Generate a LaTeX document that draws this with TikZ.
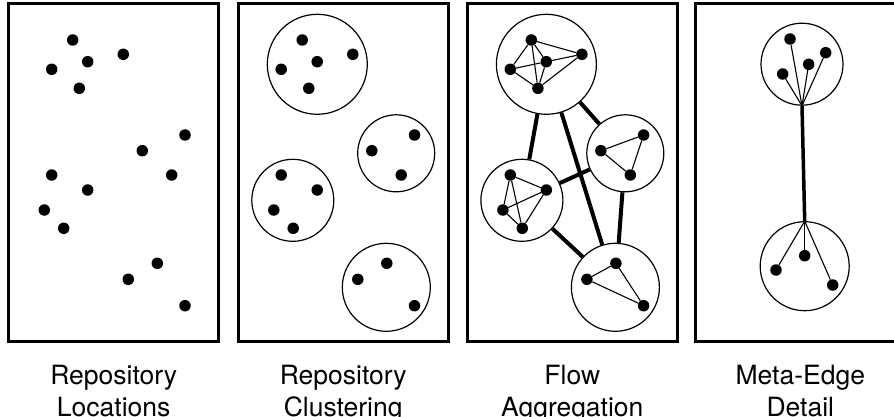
\documentclass[tikz,border=0pt]{standalone}
\usepackage{fontspec}
\setmainfont{TeX Gyre Heros}

\tikzset{
  dot/.style={circle,fill=black,inner sep=0pt,minimum size=11.5pt},
  group/.style={circle,draw,line width=1.2pt,inner sep=0pt},
  panel/.style={draw,line width=2.6pt},
  link/.style={line width=1.1pt},
  flow/.style={line width=4pt},
  caption/.style={align=center,inner sep=0pt,anchor=north,font=\fontsize{26.5}{32}\selectfont}
}

\begin{document}
\begin{tikzpicture}[x=1pt,y=-1pt]
\useasboundingbox (0,0) rectangle (894,417);
\clip (0,0) rectangle (894,417);

% repository locations
\begin{scope}[shift={(8.7,0)}]
\draw[panel] (0,3.7) rectangle (210,341.3);
\node[dot] (l1) at (64,40) {};
\node[dot] (l2) at (114.6,54.3) {};
\node[dot] (l3) at (79,61.7) {};
\node[dot] (l4) at (43,69.3) {};
\node[dot] (l5) at (70.6,88.3) {};
\node[dot] (l6) at (176.3,135) {};
\node[dot] (l7) at (133.6,150.7) {};
\node[dot] (l8) at (163,175) {};
\node[dot] (l9) at (43,175) {};
\node[dot] (l10) at (79,190) {};
\node[dot] (l11) at (35.6,210) {};
\node[dot] (l12) at (55,228.3) {};
\node[dot] (l13) at (148.6,263.3) {};
\node[dot] (l14) at (119.6,279.3) {};
\node[dot] (l15) at (176.3,305.7) {};
\node[caption] (locations) at (105,364.5) {Repository\\Locations};
\end{scope}

% repository clustering
\begin{scope}[shift={(238.2,0)}]
\draw[panel] (0,3.7) rectangle (210.5,341.3);
\node[group,minimum size=100pt] (cA) at (79.1,64.3) {};
\node[group,minimum size=77pt] (cB) at (158,153.3) {};
\node[group,minimum size=82pt] (cC) at (54.6,200.3) {};
\node[group,minimum size=88pt] (cD) at (148.1,287.3) {};
\node[dot] (c1) at (64,40) {};
\node[dot] (c2) at (114.6,54.3) {};
\node[dot] (c3) at (79,61.7) {};
\node[dot] (c4) at (43,69.3) {};
\node[dot] (c5) at (70.6,88.3) {};
\node[dot] (c6) at (176.3,135) {};
\node[dot] (c7) at (133.6,150.7) {};
\node[dot] (c8) at (163,175) {};
\node[dot] (c9) at (43,175) {};
\node[dot] (c10) at (79,190) {};
\node[dot] (c11) at (35.6,210) {};
\node[dot] (c12) at (55,228.3) {};
\node[dot] (c13) at (148.6,263.3) {};
\node[dot] (c14) at (119.6,279.3) {};
\node[dot] (c15) at (176.3,305.7) {};
\node[caption] (clustering) at (105,364.5) {Repository\\Clustering};
\end{scope}

% flow aggregation
\begin{scope}[shift={(467.3,0)}]
\draw[panel] (0,3.7) rectangle (210,341.3);
\node[group,minimum size=100pt] (fA) at (79.1,64.3) {};
\node[group,minimum size=77pt] (fB) at (158,153.3) {};
\node[group,minimum size=82pt] (fC) at (54.6,200.3) {};
\node[group,minimum size=88pt] (fD) at (148.1,287.3) {};
\node[dot] (f1) at (64,40) {};
\node[dot] (f2) at (114.6,54.3) {};
\node[dot] (f3) at (79,61.7) {};
\node[dot] (f4) at (43,69.3) {};
\node[dot] (f5) at (70.6,88.3) {};
\node[dot] (f6) at (176.3,135) {};
\node[dot] (f7) at (133.6,150.7) {};
\node[dot] (f8) at (163,175) {};
\node[dot] (f9) at (43,175) {};
\node[dot] (f10) at (79,190) {};
\node[dot] (f11) at (35.6,210) {};
\node[dot] (f12) at (55,228.3) {};
\node[dot] (f13) at (148.6,263.3) {};
\node[dot] (f14) at (119.6,279.3) {};
\node[dot] (f15) at (176.3,305.7) {};
\draw[flow] (fA) -- (fB);
\draw[flow] (fA) -- (fC);
\draw[flow] (fA) -- (fD);
\draw[flow] (fC) -- (fB);
\draw[flow] (fC) -- (fD);
\draw[flow] (fB) -- (fD);
\draw[link] (f1) -- (f2);
\draw[link] (f1) -- (f3);
\draw[link] (f1) -- (f4);
\draw[link] (f1) -- (f5);
\draw[link] (f4) -- (f3);
\draw[link] (f3) -- (f2);
\draw[link] (f4) -- (f5);
\draw[link] (f3) -- (f5);
\draw[link] (f5) -- (f2);
\draw[link] (f6) -- (f7);
\draw[link] (f7) -- (f8);
\draw[link] (f8) -- (f6);
\draw[link] (f9) -- (f10);
\draw[link] (f9) -- (f11);
\draw[link] (f9) -- (f12);
\draw[link] (f10) -- (f11);
\draw[link] (f10) -- (f12);
\draw[link] (f11) -- (f12);
\draw[link] (f13) -- (f14);
\draw[link] (f14) -- (f15);
\draw[link] (f15) -- (f13);
\node[caption] (aggregation) at (105,364.5) {Flow\\Aggregation};
\end{scope}

% meta-edge detail
\begin{scope}[shift={(695.3,0)}]
\draw[panel] (0,3.7) rectangle (210,341.3);
\node[group,minimum size=82pt] (mA) at (106.7,64.2) {};
\node[group,minimum size=89pt] (mB) at (109.4,266.2) {};
\node[dot] (m1) at (94.7,39) {};
\node[dot] (m2) at (130.4,52.7) {};
\node[dot] (m3) at (113.4,64.3) {};
\node[dot] (m4) at (87.4,74) {};
\node[dot] (m5) at (109.4,255.7) {};
\node[dot] (m6) at (80.7,270) {};
\node[dot] (m7) at (137.4,285) {};
\draw[line width=3.5pt] (mA.south) -- (mB.north);
\draw[link] (m1) -- (mA.south);
\draw[link] (m2) -- (mA.south);
\draw[link] (m3) -- (mA.south);
\draw[link] (m4) -- (mA.south);
\draw[link] (m5) -- (mB.north);
\draw[link] (m6) -- (mB.north);
\draw[link] (m7) -- (mB.north);
\node[caption] (detail) at (105,364.5) {Meta-Edge\\Detail};
\end{scope}
\end{tikzpicture}
\end{document}
